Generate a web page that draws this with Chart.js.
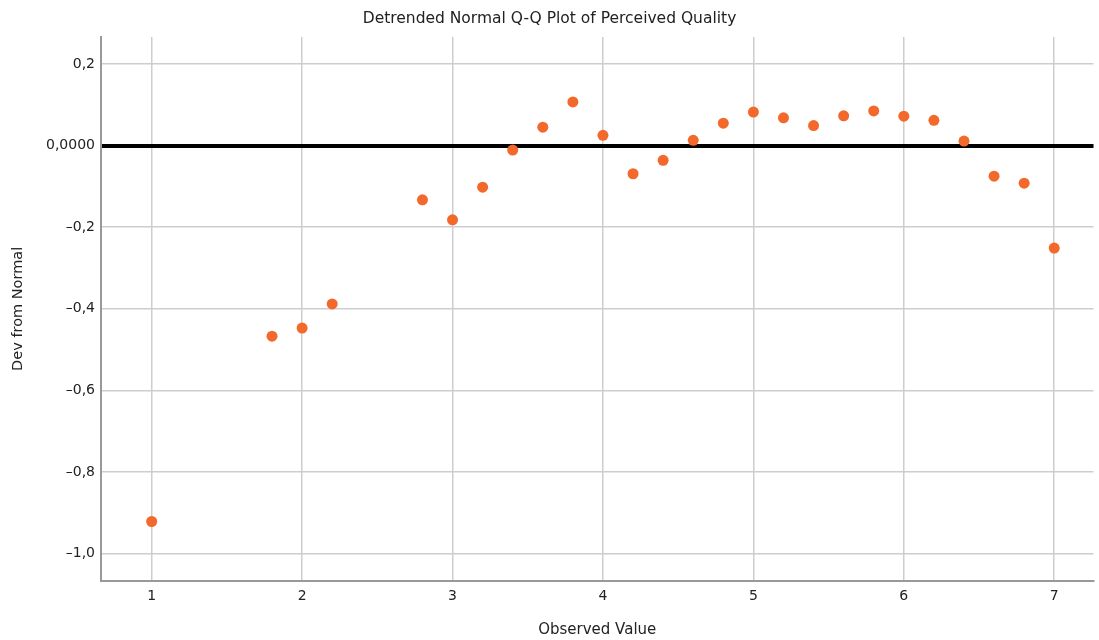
<!DOCTYPE html>
<html>
<head>
<meta charset="utf-8">
<script src="https://cdn.jsdelivr.net/npm/chart.js@4"></script>
<style>
  html, body { margin: 0; padding: 0; background: #fff; overflow: hidden; }
  #wrap { width: 1099px; height: 640px; }
</style>
</head>
<body>
<div id="wrap"><canvas id="qq"></canvas></div>
<script>
// observed values (x) and deviation from normal (y)
const observed = [1.0, 1.8, 2.0, 2.2, 2.8, 3.0, 3.2, 3.4, 3.6, 3.8, 4.0, 4.2, 4.4,
                  4.6, 4.8, 5.0, 5.2, 5.4, 5.6, 5.8, 6.0, 6.2, 6.4, 6.6, 6.8, 7.0];
const deviation = [-0.921, -0.467, -0.447, -0.388, -0.133, -0.182, -0.102, -0.011, 0.045,
                   0.107, 0.025, -0.069, -0.036, 0.013, 0.055, 0.082, 0.068, 0.049, 0.073,
                   0.085, 0.072, 0.062, 0.011, -0.075, -0.092, -0.251];

const xTicks = [1, 2, 3, 4, 5, 6, 7];
const yTicks = [0.2, 0, -0.2, -0.4, -0.6, -0.8, -1.0];
const yTickLabels = ['0,2', '0,0000', '\u20130,2', '\u20130,4', '\u20130,6', '\u20130,8', '\u20131,0'];

const FONT = '"DejaVu Sans", Verdana, sans-serif';

function initChart() {
    const ctx = document.getElementById('qq').getContext('2d');
    new Chart(ctx, {
        type: 'scatter',
        data: {
            datasets: [{
                data: observed.map((x, i) => ({ x: x, y: deviation[i] })),
                backgroundColor: '#F2692B',
                borderWidth: 0,
                pointRadius: 5.5,
                pointHoverRadius: 5.5
            }]
        },
        options: {
            responsive: true,
            maintainAspectRatio: false,
            animation: false,
            layout: { padding: { left: 0, right: 0, top: 0, bottom: 0 } },
            plugins: {
                legend: { display: false },
                tooltip: { enabled: false },
                title: {
                    display: true,
                    text: 'Detrended Normal Q-Q Plot of Perceived Quality',
                    color: '#222',
                    font: { family: FONT, size: 15.5, weight: 'normal' },
                    padding: { top: 9.2, bottom: 9.2 }
                }
            },
            scales: {
                x: {
                    type: 'linear',
                    min: 0.663,
                    max: 7.261,
                    afterBuildTicks: s => { s.ticks = xTicks.map(v => ({ value: v })); },
                    afterFit: s => { s.height = 59.3; s.paddingLeft = 0; s.paddingRight = 0; },
                    grid: { color: '#cdcdcd', lineWidth: 1.5, drawTicks: false },
                    border: { color: '#999', width: 2 },
                    ticks: {
                        color: '#222',
                        font: { family: FONT, size: 14 },
                        padding: 7,
                        maxRotation: 0
                    },
                    title: {
                        display: true,
                        text: 'Observed Value',
                        color: '#222',
                        font: { family: FONT, size: 15 },
                        padding: { top: 4, bottom: 1 }
                    }
                },
                y: {
                    type: 'linear',
                    min: -1.066,
                    max: 0.266,
                    afterBuildTicks: s => { s.ticks = yTicks.map(v => ({ value: v })); },
                    afterFit: s => { s.width = 101; },
                    grid: {
                        drawTicks: false,
                        color: c => (c.tick && c.tick.value === 0) ? '#000' : '#cdcdcd',
                        lineWidth: c => (c.tick && c.tick.value === 0) ? 4 : 1.5
                    },
                    border: { color: '#999', width: 2 },
                    ticks: {
                        color: '#222',
                        font: { family: FONT, size: 14 },
                        padding: 6,
                        callback: v => {
                            const i = yTicks.findIndex(t => Math.abs(t - v) < 1e-9);
                            return i >= 0 ? yTickLabels[i] : '';
                        }
                    },
                    title: {
                        display: true,
                        text: 'Dev from Normal',
                        color: '#222',
                        font: { family: FONT, size: 14.5 },
                        padding: { top: 9.3, bottom: 4 }
                    }
                }
            }
        }
    });
}

document.addEventListener('DOMContentLoaded', initChart);
</script>
</body>
</html>
